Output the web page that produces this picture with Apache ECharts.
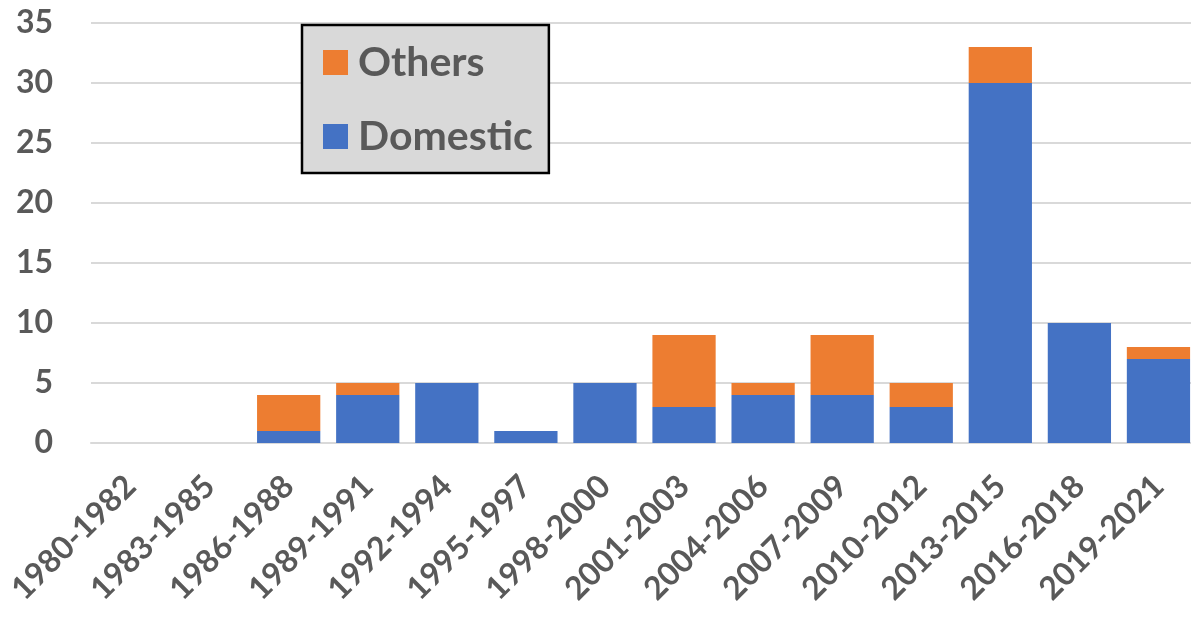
<!DOCTYPE html>
<html>
<head>
<meta charset="utf-8">
<script src="https://cdn.jsdelivr.net/npm/echarts@6/dist/echarts.min.js"></script>
<style>html,body{margin:0;padding:0;background:#fff}#c{width:1191px;height:617px}</style>
</head>
<body>
<div id="c"></div>
<script>
const categories = ['1980-1982','1983-1985','1986-1988','1989-1991','1992-1994','1995-1997','1998-2000','2001-2003','2004-2006','2007-2009','2010-2012','2013-2015','2016-2018','2019-2021'];
const domestic = [0,0,1,4,5,1,5,3,4,4,3,30,10,7];
const others   = [0,0,3,1,0,0,0,6,1,5,2,3,0,1];
const yTicks = {min:0, max:35, interval:5};

const chart = echarts.init(document.getElementById('c'));
const font = 'Lato';
chart.setOption({
  animation:false,
  backgroundColor:'#fff',
  grid:{left:91, top:23, width:1107, bottom:174, containLabel:false, outerBoundsMode:'none'},
  legend:{
    data:['Others','Domestic'],
    orient:'vertical',
    left:302, top:25,
    padding:[17,16,16,21],
    backgroundColor:'#d9d9d9',
    borderColor:'#000', borderWidth:2.5,
    itemWidth:25, itemHeight:25, itemGap:33,
    icon:'rect',
    textStyle:{fontFamily:font, fontWeight:'bold', fontSize:41, lineHeight:41, color:'#595959', padding:[0,0,0,5]}
  },
  xAxis:{
    type:'category', data:categories,
    axisLine:{lineStyle:{color:'#d9d9d9', width:2}},
    axisTick:{show:false},
    axisLabel:{rotate:45, interval:0, margin:38, fontFamily:font, fontWeight:'bold', fontSize:32, color:'#595959'}
  },
  yAxis:{
    type:'value', min:yTicks.min, max:yTicks.max, interval:yTicks.interval,
    axisLine:{show:false}, axisTick:{show:false},
    splitLine:{lineStyle:{color:'#d9d9d9', width:2}},
    axisLabel:{margin:38, fontFamily:font, fontWeight:'bold', fontSize:32, color:'#595959'}
  },
  series:[
    {name:'Domestic', type:'bar', stack:'a', data:domestic, barCategoryGap:'20%', itemStyle:{color:'#4472C4'}},
    {name:'Others', type:'bar', stack:'a', data:others, barCategoryGap:'20%', itemStyle:{color:'#ED7D31'}}
  ]
});
</script>
</body>
</html>
